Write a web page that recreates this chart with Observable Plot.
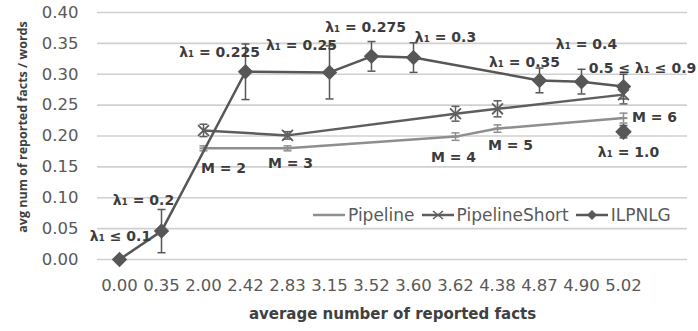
<!DOCTYPE html>
<html><head><meta charset="utf-8">
<script src="https://cdn.jsdelivr.net/npm/d3@7"></script>
<script src="https://cdn.jsdelivr.net/npm/@observablehq/plot@0.6"></script>
<style>
body{margin:0;background:#fff;}
#wrap{position:relative;width:698px;height:331px;overflow:hidden;background:#fff;}
#legend{position:absolute;left:312px;top:205px;display:flex;align-items:center;font-family:"DejaVu Sans";font-size:17px;color:#595959;white-space:nowrap;line-height:20px;}
#legend .item{display:flex;align-items:center;margin-right:6px;}
#legend svg{margin-right:2px;}
</style></head><body>
<div id="wrap"><div id="chart"></div><div id="legend"></div></div>
<script>
// ---- data ----
const categories = ["0.00","0.35","2.00","2.42","2.83","3.15","3.52","3.60","3.62","4.38","4.87","4.90","5.02"];
const yTicks = [0, 0.05, 0.10, 0.15, 0.20, 0.25, 0.30, 0.35, 0.40];

const pipeline      = [null, null, 0.180, null, 0.180, null, null, null, 0.199, 0.212, null, null, 0.229];
const pipelineErr   = [null, null, 0.004, null, 0.004, null, null, null, 0.006, 0.006, null, null, 0.008];
const pipelineShort    = [null, null, 0.209, null, 0.201, null, null, null, 0.236, 0.244, null, null, 0.267];
const pipelineShortErr = [null, null, 0.010, null, 0.006, null, null, null, 0.012, 0.013, null, null, 0.015];
const ilpnlg    = [0.000, 0.046, null, 0.304, null, 0.303, 0.329, 0.327, null, null, 0.290, 0.288, 0.280];
const ilpnlgErr = [null,  0.035, null, 0.045, null, 0.043, 0.024, 0.024, null, null, 0.020, 0.020, 0.020];
const ilpnlgExtraCat = ["5.02"];
const ilpnlgExtraVal = [0.207];
const ilpnlgExtraErr = [0.010];

const annLabels = ["λ₁ ≤ 0.1","λ₁ = 0.2","λ₁ = 0.225","λ₁ = 0.25","λ₁ = 0.275","λ₁ = 0.3","λ₁ = 0.35","λ₁ = 0.4","0.5 ≤ λ₁ ≤ 0.9","λ₁ = 1.0","M = 2","M = 3","M = 4","M = 5","M = 6"];
const annCats   = ["0.00","0.35","2.42","3.15","3.52","3.60","4.87","4.90","5.02","5.02","2.00","2.83","3.62","4.38","5.02"];
const annY      = [0.037, 0.096, 0.335, 0.347, 0.376, 0.360, 0.319, 0.348, 0.309, 0.173, 0.147, 0.155, 0.165, 0.185, 0.230];
const annDx     = [1, -18, -26, -28, -6, 32, -15, 5, 19, 5, 20, 3, -2, 13, 31];

// ---- build ----
const series = (vals, errs) => categories.map((c, i) => ({c, v: vals[i], e: errs[i]})).filter(d => d.v != null);
const pData = series(pipeline, pipelineErr);
const sData = series(pipelineShort, pipelineShortErr);
const iData = series(ilpnlg, ilpnlgErr);
const xData = ilpnlgExtraCat.map((c, i) => ({c, v: ilpnlgExtraVal[i], e: ilpnlgExtraErr[i]}));
const ann = annLabels.map((t, i) => ({t, c: annCats[i], y: annY[i], dx: annDx[i]}));

const cPipe = "#8e8e8e", cShort = "#5e5e5e", cIlp = "#575757";

const capSymbol = {draw(ctx, size) { const w = Math.sqrt(size / Math.PI); ctx.moveTo(-w, 0); ctx.lineTo(w, 0); }};

function errorMarks(data, color) {
  const d = data.filter(x => x.e != null);
  return [
    Plot.ruleX(d, {x: "c", y1: x => x.v - x.e, y2: x => x.v + x.e, stroke: color, strokeWidth: 1.5}),
    Plot.dot(d, {x: "c", y: x => x.v + x.e, symbol: capSymbol, r: 4, fill: "none", stroke: color, strokeWidth: 1.5}),
    Plot.dot(d, {x: "c", y: x => x.v - x.e, symbol: capSymbol, r: 4, fill: "none", stroke: color, strokeWidth: 1.5})
  ];
}

const chart = Plot.plot({
  width: 698, height: 331,
  marginLeft: 97, marginRight: 11, marginTop: 12, marginBottom: 72,
  style: {fontFamily: "DejaVu Sans", background: "white", overflow: "visible"},
  x: {type: "point", domain: [...categories, " "], padding: 0.5},
  y: {domain: [0, 0.4]},
  marks: [
    Plot.ruleY(yTicks, {stroke: "#d0d0d0", strokeWidth: 1.6}),
    Plot.axisY({ticks: yTicks, tickSize: 0, tickPadding: 19, tickFormat: d3.format(".2f"), fontSize: 16.5, fill: "#595959", label: null}),
    Plot.axisX({ticks: categories, tickSize: 0, tickPadding: 20, fontSize: 16.5, fill: "#595959", label: null}),
    // Pipeline
    Plot.line(pData, {x: "c", y: "v", stroke: cPipe, strokeWidth: 2.5}),
    ...errorMarks(pData, cPipe),
    Plot.dot(pData, {x: "c", y: "v", symbol: capSymbol, r: 4, fill: "none", stroke: cPipe, strokeWidth: 2}),
    // PipelineShort
    Plot.line(sData, {x: "c", y: "v", stroke: cShort, strokeWidth: 2.5}),
    ...errorMarks(sData, cShort),
    Plot.dot(sData, {x: "c", y: "v", symbol: "times", r: 5, stroke: cShort, strokeWidth: 1.8}),
    // ILPNLG
    Plot.line(iData, {x: "c", y: "v", stroke: cIlp, strokeWidth: 2.5}),
    ...errorMarks(iData, cIlp),
    Plot.dot(iData, {x: "c", y: "v", symbol: "diamond2", r: 6, fill: cIlp, stroke: cIlp}),
    ...errorMarks(xData, cIlp),
    Plot.dot(xData, {x: "c", y: "v", symbol: "diamond2", r: 6.5, fill: cIlp, stroke: cIlp}),
    // annotations
    ...ann.map(a => Plot.text([a], {x: "c", y: "y", text: "t", dx: a.dx, fontSize: 14, fontWeight: "bold", fill: "#3c3c3c"})),
    // axis titles
    Plot.text(["average number of reported facts"], {frameAnchor: "bottom", dy: 59, fontSize: 15, fontWeight: "bold", fill: "#404040"}),
    Plot.text(["avg num of reported facts / words"], {frameAnchor: "left", textAnchor: "middle", dx: -75, dy: -9, rotate: -90, fontSize: 12.5, fontWeight: "bold", fontFamily: "Open Sans", fill: "#404040"})
  ]
});
document.getElementById("chart").appendChild(chart);

// legend
const legendItems = [
  {name: "Pipeline", color: cPipe, marker: "none"},
  {name: "PipelineShort", color: cShort, marker: "times"},
  {name: "ILPNLG", color: cIlp, marker: "diamond"}
];
const lg = document.getElementById("legend");
for (const it of legendItems) {
  const div = document.createElement("div");
  div.className = "item";
  let m = "";
  if (it.marker === "times") m = `<path d="M12,3L22,11M12,11L22,3" stroke="${it.color}" stroke-width="1.5"/>`;
  if (it.marker === "diamond") m = `<path d="M17,2L22,7L17,12L12,7Z" fill="${it.color}"/>`;
  div.innerHTML = `<svg width="34" height="14"><line x1="1" y1="7" x2="33" y2="7" stroke="${it.color}" stroke-width="2.5"/>${m}</svg><span>${it.name}</span>`;
  lg.appendChild(div);
}
</script>
</body></html>
